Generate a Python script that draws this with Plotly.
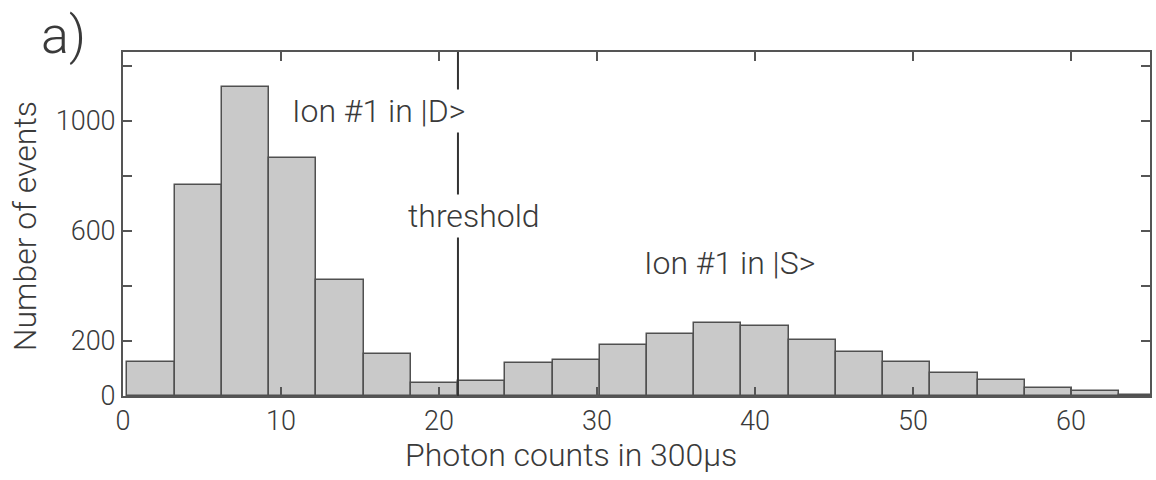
import plotly.graph_objects as go

# ---- data ----
bin_centers = [1.77, 4.76, 7.75, 10.74, 13.73, 16.72, 19.71, 22.70, 25.69, 28.68, 31.67,
               34.66, 37.65, 40.64, 43.63, 46.62, 49.61, 52.60, 55.59, 58.58, 61.57, 64.56]
bin_width = 2.99
counts = [124, 768, 1124, 866, 420, 154, 47, 56, 119, 130, 184,
          224, 265, 254, 202, 160, 124, 82, 58, 30, 18, 5]
threshold = 21.2
x_ticks = [0, 10, 20, 30, 40, 50, 60]
y_ticks = [0, 200, 400, 600, 800, 1000, 1200]
y_ticktext = ["0", "200", "", "600", "", "1000", ""]

FONT = "Roboto"
TXT = "#3a3a3a"
AX = "#555555"


def px(xp):
    return (xp - 123) / 1029


def py(yp):
    return (396 - yp) / 344


fig = go.Figure()
fig.add_trace(go.Bar(
    x=bin_centers, y=counts, width=bin_width,
    marker=dict(color="#c9c9c9", line=dict(color="#505050", width=1.5)),
    showlegend=False,
))

fig.add_shape(type="line", xref="x", yref="paper", x0=threshold, x1=threshold,
              y0=0, y1=1, line=dict(color="#333333", width=2), layer="above")

ann_font = dict(family=FONT, size=32, color=TXT, weight=300)
common = dict(xref="paper", yref="paper", showarrow=False,
              xanchor="center", yanchor="middle")
fig.add_annotation(text="Ion #1 in |D>", x=px(379), y=py(111),
                   font=ann_font, bgcolor="white", borderpad=2, **common)
fig.add_annotation(text="threshold", x=px(475), y=py(216),
                   font=ann_font, bgcolor="white", borderpad=2, **common)
fig.add_annotation(text="Ion #1 in |S>", x=px(731), y=py(263),
                   font=ann_font, **common)
# axis titles
fig.add_annotation(text="Photon counts in 300µs", x=px(572), y=py(455),
                   font=dict(family=FONT, size=32, color=TXT, weight=300), **common)
fig.add_annotation(text="Number of events", x=px(25), y=py(226), textangle=-90,
                   font=dict(family=FONT, size=32, color=TXT, weight=300), **common)
# panel label
fig.add_annotation(text="a)", x=px(63), y=py(36),
                   font=dict(family=FONT, size=52, color=TXT, weight=300), **common)

tick_font = dict(family=FONT, size=27, color=TXT, weight=300)
fig.update_xaxes(range=[0, 65], tickvals=x_ticks, ticks="inside", ticklen=9,
                 tickwidth=1.5, tickcolor=AX, showline=True, linecolor=AX,
                 linewidth=2, mirror="ticks", showgrid=False, zeroline=False,
                 tickfont=tick_font)
fig.update_yaxes(range=[0, 1250], tickvals=y_ticks, ticktext=y_ticktext,
                 ticks="inside", ticklen=9, tickwidth=1.5, tickcolor=AX,
                 showline=True, linecolor=AX, linewidth=2, mirror="ticks",
                 showgrid=False, zeroline=False, tickfont=tick_font)

fig.update_layout(width=1156, height=480, margin=dict(l=123, r=4, t=52, b=84),
                  paper_bgcolor="white", plot_bgcolor="white", bargap=0)

fig.write_html("out.html")
